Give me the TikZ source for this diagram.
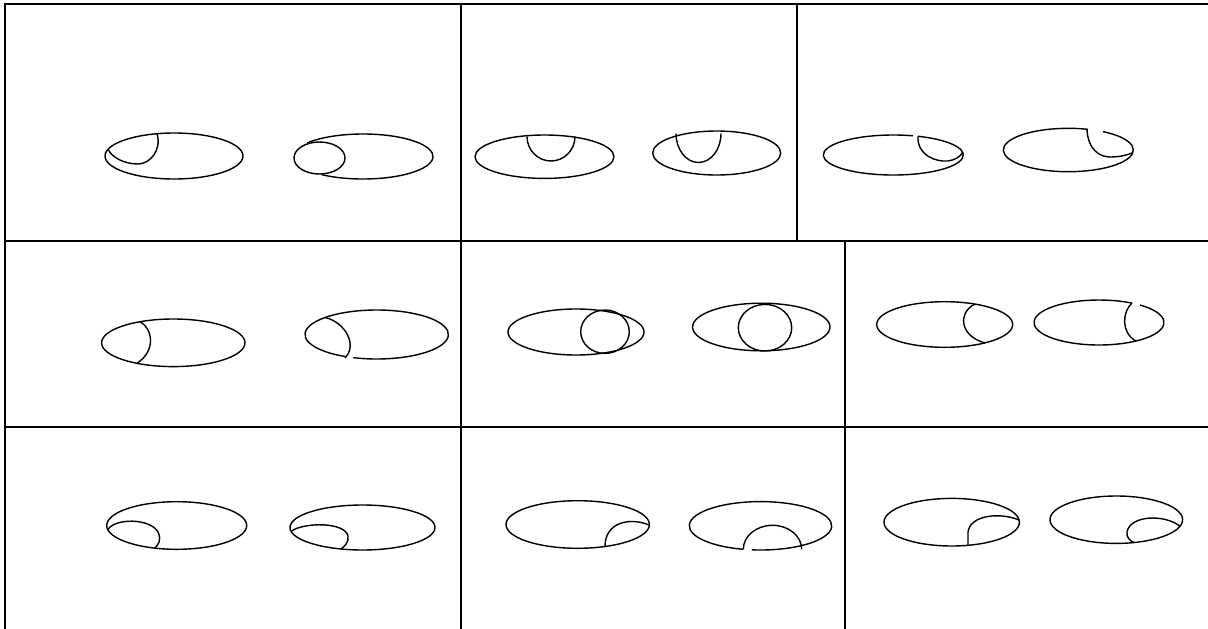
\documentclass[tikz,border=0pt]{standalone}
\tikzset{
  gridline/.style={line width=1.3pt},
  eye/.style={line width=0.8pt}
}
\begin{document}
\begin{tikzpicture}[x=0.02cm, y=-0.02cm]
  \useasboundingbox (0,0) rectangle (1208,629);
  % table rules
  \draw[gridline] (1208,4) -- (5,4) -- (5,629);
  \draw[gridline] (5,241) -- (1208,241);
  \draw[gridline] (5,427) -- (1208,427);
  \draw[gridline] (461,4) -- (461,629);
  \draw[gridline] (797,4) -- (797,241);
  \draw[gridline] (845,241) -- (845,629);
  % outer ellipses, closed
  \foreach \cx/\cy/\rx/\ry in {174/156/69/23, 544.5/156.7/69.5/21.7,
      716.7/153/64/22, 173.3/342.8/71.7/23.8, 576/332/68/23,
      761.3/327/68.7/23.8, 944.7/324.5/68/22.8,
      176.7/525.5/70/23.8, 362.5/527.5/72.5/22.5, 577.7/524.5/71.7/23.8,
      951.7/522.2/67.7/23.8, 1116.3/519.7/66.3/23.7}
    \draw[eye] (\cx,\cy) ellipse[x radius=\rx, y radius=\ry];
  % outer ellipses, open
  \foreach \cx/\cy/\rx/\ry/\a/\b in {363/156.5/70/22.5/216.9/486,
      893.3/155/70/20/290.7/646.3, 1068.3/150/65/21.7/302.3/647.6,
      376.7/334.5/71.7/24.5/116.2/469.3, 1099/322.5/65/22.5/309.1/660.5,
      760.5/525.8/71.2/24.2/104.2/456.9}
    \draw[eye] ({\cx+\rx*cos(\a)},{\cy+\ry*sin(\a)})
      arc[start angle=\a, end angle=\b, x radius=\rx, y radius=\ry];
  % row 1
  \draw[eye] (157,134) .. controls (162,150) and (150,164) .. (138,164)
    .. controls (125,164) and (112,158) .. (108,149);
  \draw[eye] (319.5,158) ellipse[x radius=25.5, y radius=16];
  \draw[eye] (527,136.5) arc[start angle=180, end angle=0, x radius=24, y radius=24.5];
  \draw[eye] (676,133.5) arc[start angle=180, end angle=0, x radius=22.5, y radius=29];
  \draw[eye] (918,136.3) .. controls (917,155) and (935,162) .. (948,161)
    .. controls (955,160) and (960,157) .. (963,152);
  \draw[eye] (1087,129.5) .. controls (1088,150) and (1100,157) .. (1110,157)
    .. controls (1120,157) and (1127,155) .. (1132,153);
  % row 2
  \draw[eye] (140,321.7) .. controls (152,328) and (157,350) .. (137,363.3);
  \draw[eye] (325,317.5) .. controls (345,322) and (358,345) .. (345,358);
  \draw[eye] (605,331.7) ellipse[x radius=24.3, y radius=21.7];
  \draw[eye] (765,327.7) ellipse[x radius=26.7, y radius=23.3];
  \draw[eye] (975,304.1) .. controls (958,312) and (959,336) .. (985,342.9);
  \draw[eye] (1132,303.1) .. controls (1122,312) and (1121,333) .. (1136,341);
  % row 3
  \draw[eye] (108,529.5) .. controls (115,518) and (150,518) .. (158,532)
    .. controls (162,540) and (158,545) .. (155,548);
  \draw[eye] (291.5,531) .. controls (305,522) and (345,522) .. (348,536)
    .. controls (349,542) and (345,546) .. (341,549);
  \draw[eye] (649,525) .. controls (630,517) and (605,522) .. (605,546.5);
  \draw[eye] (743.3,549.3) arc[start angle=180, end angle=360, x radius=29.2, y radius=24];
  \draw[eye] (1019,520) .. controls (1000,512) and (970,515) .. (968,532) -- (968,545.3);
  \draw[eye] (1180,526.3) .. controls (1165,514) and (1130,515) .. (1127,532)
    .. controls (1126,537) and (1130,541) .. (1134,542.5);
\end{tikzpicture}
\end{document}
